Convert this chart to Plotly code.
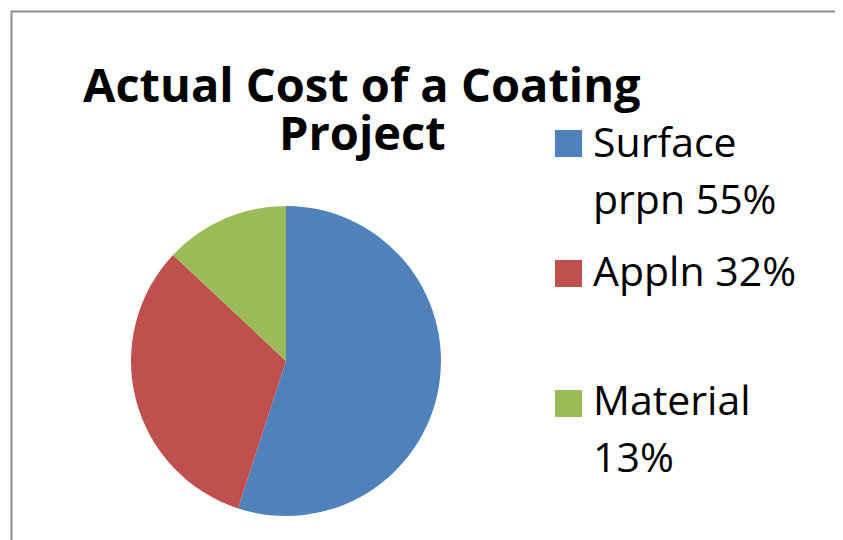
import plotly.graph_objects as go

# ---- data ----
categories = ["Surface prpn", "Appln", "Material"]
values = [55, 32, 13]
legend_labels = ["Surface<br>prpn 55%", "Appln 32%", "Material<br>13%"]
colors = ["#4F81BD", "#C0504D", "#9BBB59"]
title_lines = ["Actual Cost of a Coating", "Project"]

W, H = 843, 540
OFF = 8  # page offset of the figure in the browser
FONT = "Open Sans"


def px(x):
    return (x - OFF) / W


def py(y):
    return 1 - (y - OFF) / H


fig = go.Figure(go.Pie(
    labels=categories,
    values=values,
    sort=False,
    direction="clockwise",
    rotation=0,
    marker=dict(colors=colors, line=dict(width=0)),
    textinfo="none",
    hoverinfo="label+percent",
    showlegend=False,
    domain=dict(x=[px(131), px(441)], y=[py(516), py(206)]),
))

shapes = [dict(type="rect", xref="paper", yref="paper",
               x0=px(11.5), x1=1.05, y0=-0.05, y1=py(11.5),
               line=dict(color="#8C8C8C", width=2), fillcolor="rgba(0,0,0,0)")]
annotations = []

# title
title_mid = [83.5, 132]
for j, t in enumerate(title_lines):
    annotations.append(dict(xref="paper", yref="paper", x=px(362), y=py(title_mid[j]),
                            xanchor="center", yanchor="middle", showarrow=False,
                            text="<b>" + t + "</b>",
                            font=dict(family=FONT, size=47, color="#000000")))

# legend (manual, Excel-like large entries)
sq_tops = [130, 260, 390]
line_mid = [[141, 198], [270], [399, 456]]
for i, lab in enumerate(legend_labels):
    t = sq_tops[i]
    shapes.append(dict(type="rect", xref="paper", yref="paper",
                       x0=px(555), x1=px(582), y0=py(t + 27), y1=py(t),
                       line=dict(width=0), fillcolor=colors[i]))
    for j, part in enumerate(lab.split("<br>")):
        annotations.append(dict(xref="paper", yref="paper", x=px(591), y=py(line_mid[i][j]),
                                xanchor="left", yanchor="middle", showarrow=False,
                                text=part, font=dict(family=FONT, size=41, color="#000000")))

fig.update_layout(
    width=W, height=H,
    margin=dict(l=0, r=0, t=0, b=0),
    paper_bgcolor="white", plot_bgcolor="white",
    shapes=shapes,
    annotations=annotations,
)

fig.write_html("out.html")
